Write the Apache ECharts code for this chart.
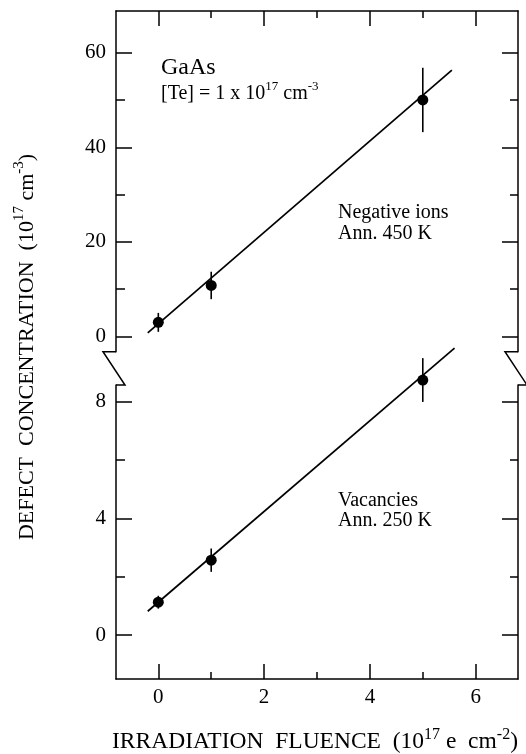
<!DOCTYPE html>
<html>
<head>
<meta charset="utf-8">
<script src="https://cdn.jsdelivr.net/npm/echarts@6/dist/echarts.min.js"></script>
<style>
html,body{margin:0;padding:0;background:#fff;}
#chart{width:526px;height:754px;}
</style>
</head>
<body>
<div id="chart"></div>
<script>
// ---- data ----
const fluence = [0, 1, 5];
const negIons = [3.0, 10.8, 50.0];
const negIonsErr = [2.0, 2.9, 6.8];
const vacancies = [1.13, 2.57, 8.74];
const vacanciesErr = [0.22, 0.4, 0.75];
const negFitX = [-0.2, 5.55];
const negFitY = [0.8, 56.3];
const vacFitX = [-0.2, 5.6];
const vacFitY = [0.82, 9.83];
const xMajorTicks = [0, 2, 4, 6];
const xMinorTicks = [1, 3, 5];
const topMajorTicks = [0, 20, 40, 60];
const topMinorTicks = [10, 30, 50];
const botMajorTicks = [0, 4, 8];
const botMinorTicks = [2, 6];

// ---- layout ----
const FONT = "'Liberation Serif','Times New Roman',serif";
const L = 116, R = 518, TOP1 = 11, BOT1 = 351.7, TOP2 = 385, BOT2 = 679;
const W = 526, H = 754;
const LW = 1.5;

const chart = echarts.init(document.getElementById('chart'), null, {renderer: 'canvas'});

function xAxisDef(grid, pos, ticks, len, showLine, showLabel) {
  return {
    type: 'value', gridIndex: grid, position: pos, min: -0.8, max: 6.8,
    axisLine: {show: showLine, onZero: false, lineStyle: {color: '#000', width: LW}},
    axisTick: {show: true, inside: true, length: len, customValues: ticks, lineStyle: {color: '#000', width: LW}},
    axisLabel: {show: showLabel, customValues: ticks, color: '#000', fontFamily: FONT, fontSize: 21, margin: 8},
    splitLine: {show: false}
  };
}
function yAxisDef(grid, pos, min, max, ticks, len, showLine, showLabel) {
  return {
    type: 'value', gridIndex: grid, position: pos, min: min, max: max,
    axisLine: {show: showLine, onZero: false, lineStyle: {color: '#000', width: LW}},
    axisTick: {show: true, inside: true, length: len, customValues: ticks, lineStyle: {color: '#000', width: LW}},
    axisLabel: {show: showLabel, customValues: ticks, color: '#000', fontFamily: FONT, fontSize: 21, margin: 10},
    splitLine: {show: false}
  };
}

const TOPMIN = -3.2, TOPMAX = 68.8, BOTMIN = -1.5, BOTMAX = 8.57;

function errData(xs, ys, es) { return xs.map((x, i) => [x, ys[i], es[i]]); }
function zip(xs, ys) { return xs.map((x, i) => [x, ys[i]]); }
function errRender(params, api) {
  const x = api.value(0), y = api.value(1), e = api.value(2);
  const p1 = api.coord([x, y - e]), p2 = api.coord([x, y + e]);
  return {type: 'line', shape: {x1: p1[0], y1: p1[1], x2: p2[0], y2: p2[1]}, style: {stroke: '#000', lineWidth: 1.6}};
}

const option = {
  backgroundColor: '#fff',
  animation: false,
  grid: [
    {left: L, right: W - R, top: TOP1, height: BOT1 - TOP1},
    {left: L, right: W - R, top: TOP2, height: BOT2 - TOP2}
  ],
  xAxis: [
    xAxisDef(0, 'top', xMajorTicks, 15, true, false),
    xAxisDef(0, 'top', xMinorTicks, 7, false, false),
    xAxisDef(1, 'bottom', xMajorTicks, 15, true, true),
    xAxisDef(1, 'bottom', xMinorTicks, 7, false, false)
  ],
  yAxis: [
    yAxisDef(0, 'left', TOPMIN, TOPMAX, topMajorTicks, 16, true, true),
    yAxisDef(0, 'left', TOPMIN, TOPMAX, topMinorTicks, 9, false, false),
    yAxisDef(0, 'right', TOPMIN, TOPMAX, topMajorTicks, 16, true, false),
    yAxisDef(0, 'right', TOPMIN, TOPMAX, topMinorTicks, 8, false, false),
    yAxisDef(1, 'left', BOTMIN, BOTMAX, botMajorTicks, 16, true, true),
    yAxisDef(1, 'left', BOTMIN, BOTMAX, botMinorTicks, 9, false, false),
    yAxisDef(1, 'right', BOTMIN, BOTMAX, botMajorTicks, 16, true, false),
    yAxisDef(1, 'right', BOTMIN, BOTMAX, botMinorTicks, 8, false, false)
  ],
  series: [
    {type: 'line', xAxisIndex: 0, yAxisIndex: 0, data: zip(negFitX, negFitY), symbol: 'none', clip: false,
     lineStyle: {color: '#000', width: 1.7}},
    {type: 'custom', xAxisIndex: 0, yAxisIndex: 0, data: errData(fluence, negIons, negIonsErr), renderItem: errRender,
     encode: {x: 0, y: 1}, clip: false},
    {type: 'scatter', xAxisIndex: 0, yAxisIndex: 0, data: zip(fluence, negIons), symbol: 'circle', symbolSize: 11,
     clip: false, itemStyle: {color: '#000', opacity: 1}, z: 5},
    {type: 'line', xAxisIndex: 2, yAxisIndex: 4, data: zip(vacFitX, vacFitY), symbol: 'none', clip: false,
     lineStyle: {color: '#000', width: 1.7}},
    {type: 'custom', xAxisIndex: 2, yAxisIndex: 4, data: errData(fluence, vacancies, vacanciesErr), renderItem: errRender,
     encode: {x: 0, y: 1}, clip: false},
    {type: 'scatter', xAxisIndex: 2, yAxisIndex: 4, data: zip(fluence, vacancies), symbol: 'circle', symbolSize: 11,
     clip: false, itemStyle: {color: '#000', opacity: 1}, z: 5}
  ],
  graphic: [
    {type: 'polyline', shape: {points: [[L, BOT1], [L - 13, BOT1], [L + 9, TOP2], [L, TOP2]]},
     style: {stroke: '#000', lineWidth: LW, fill: null}},
    {type: 'polyline', shape: {points: [[R, BOT1], [R - 13, BOT1], [R + 9, TOP2], [R, TOP2]]},
     style: {stroke: '#000', lineWidth: LW, fill: null}},
    {type: 'text', x: 161, y: 68,
     style: {text: 'GaAs', font: '24px ' + FONT, fill: '#000', textVerticalAlign: 'middle'}},
    {type: 'text', x: 161, y: 94,
     style: {text: '[Te] = 1 x 10{sup|17} cm{sup|-3}', font: '20px ' + FONT, fill: '#000', textVerticalAlign: 'middle',
       rich: {sup: {fontSize: 13, fontFamily: FONT, padding: [0, 0, 14, 0]}}}},
    {type: 'text', x: 338, y: 202,
     style: {text: 'Negative ions\nAnn. 450 K', font: '20px ' + FONT, fill: '#000', lineHeight: 21, textVerticalAlign: 'top'}},
    {type: 'text', x: 338, y: 491,
     style: {text: 'Vacancies\nAnn. 250 K', font: '20px ' + FONT, fill: '#000', lineHeight: 20, textVerticalAlign: 'top'}},
    {type: 'text', x: 315, y: 742,
     style: {text: 'IRRADIATION  FLUENCE  (10{sup|17} e  cm{sup|-2})', font: '23.5px ' + FONT, fill: '#000',
       textAlign: 'center', textVerticalAlign: 'middle',
       rich: {sup: {fontSize: 16, fontFamily: FONT, padding: [0, 0, 15, 0]}}}},
    {type: 'text', x: 27, y: 347, rotation: Math.PI / 2,
     style: {text: 'DEFECT  CONCENTRATION  (10{sup|17} cm{sup|-3})', font: '22px ' + FONT, fill: '#000',
       textAlign: 'center', textVerticalAlign: 'middle',
       rich: {sup: {fontSize: 15, fontFamily: FONT, padding: [0, 0, 15, 0]}}}}
  ]
};
chart.setOption(option);
</script>
</body>
</html>
